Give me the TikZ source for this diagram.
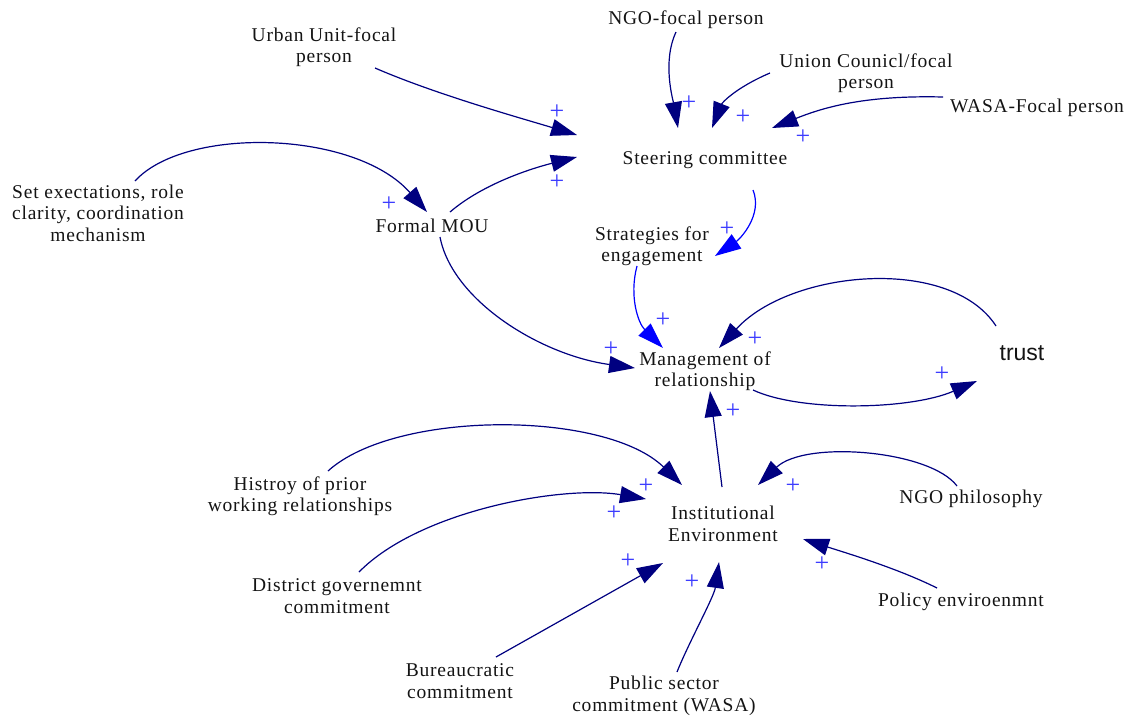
\documentclass[tikz,border=0pt]{standalone}
\usepackage{fontspec}
\setmainfont[LetterSpace=4]{Liberation Serif}
\newfontfamily\trustfont{Liberation Sans}
\usetikzlibrary{arrows.meta,calc}

\definecolor{linkblue}{RGB}{0,0,128}
\definecolor{brightblue}{RGB}{0,0,255}
\definecolor{polarity}{RGB}{60,60,255}
\definecolor{labeltext}{RGB}{20,20,20}

\tikzset{
  var/.style={align=center, inner sep=0pt, text=labeltext,
    font=\fontsize{19.5}{21.5}\selectfont},
  link/.style={draw=linkblue, line width=1.2pt,
    -{Triangle[length=26pt,width=17pt]}},
  strong link/.style={link, draw=brightblue},
  pol/.style={inner sep=0pt, text=polarity, text height=13pt, text depth=0pt,
    font=\fontsize{26}{26}\selectfont}
}

\begin{document}
\begin{tikzpicture}[x=1pt,y=-1pt]
\useasboundingbox (0,0) rectangle (1135,716);

% variables
\node[var] (urban)    at (324,47)  {Urban Unit-focal\\person};
\node[var] (ngofocal) at (686,20)  {NGO-focal person};
\node[var] (union)    at (866,73)  {Union Counicl/focal\\person};
\node[var] (wasa)     at (1037,108) {WASA-Focal person};
\node[var] (steer)    at (705,160) {Steering committee};
\node[var] (setexp)   at (98,213)  {Set exectations, role\\clarity, coordination\\mechanism};
\node[var] (mou)      at (432,226) {Formal MOU};
\node[var] (strat)    at (652,246) {Strategies for\\engagement};
\node[var] (mgmt)     at (705,371) {Management of\\relationship};
\node[var, font=\trustfont\fontsize{23}{23}\selectfont] (trust) at (1022,353) {trust};
\node[var] (hist)     at (300,496) {Histroy of prior\\working relationships};
\node[var] (inst)     at (723,524) {Institutional\\Environment};
\node[var] (ngophil)  at (971,499) {NGO philosophy};
\node[var] (district) at (337,596) {District governemnt\\commitment};
\node[var] (policy)   at (961,602) {Policy enviroenmnt};
\node[var] (bureau)   at (460,681) {Bureaucratic\\commitment};
\node[var] (public)   at (664,696) {Public sector\\commitment (WASA)};

% links into the steering committee
\draw[link] ($(urban)+(51,21)$) .. controls +(60,26) and +(-60,-18) .. ($(steer)+(-128,-25)$);
\draw[link] ($(mou)+(18,-14)$) .. controls +(35,-30) and +(-40,10) .. ($(steer)+(-128,-3)$);
\draw[link] ($(ngofocal)+(-10,12)$) .. controls +(-14,30) and +(-5,-28) .. ($(steer)+(-27,-32)$);
\draw[link] ($(union)+(-96,0)$) .. controls +(-35,15) and +(10,-25) .. ($(steer)+(7,-32)$);
\draw[link] ($(wasa)+(-94,-11)$) .. controls +(-80,-2) and +(50,-20) .. ($(steer)+(67,-32)$);

% steering committee and strategies
\draw[strong link] ($(steer)+(48,30)$) .. controls +(10,25) and +(25,-17) .. ($(strat)+(63,10)$);
\draw[strong link] ($(strat)+(-15,20)$) .. controls +(-8,30) and +(-25,-25) .. ($(mgmt)+(-42,-23)$);

% formal MOU
\draw[link] ($(setexp)+(37,-32)$) .. controls +(50,-55) and +(-72,-82) .. ($(mou)+(-5,-14)$);
\draw[link] ($(mou)+(8,11)$) .. controls +(12,63) and +(-95,-13) .. ($(mgmt)+(-70,-3)$);

% trust loop
\draw[link] ($(trust)+(-26,-27)$) .. controls +(-46,-71) and +(71,-78) .. ($(mgmt)+(14,-23)$);
\draw[link] ($(mgmt)+(48,19)$) .. controls +(47,22) and +(-67,29) .. ($(trust)+(-45,28)$);

% institutional environment
\draw[link] ($(inst)+(-1,-37)$) -- ($(mgmt)+(5,20)$);
\draw[link] ($(hist)+(28,-25)$) .. controls +(67,-61) and +(-77,-75) .. ($(inst)+(-41,-39)$);
\draw[link] ($(district)+(22,-24)$) .. controls +(61,-62) and +(-82,-14) .. ($(inst)+(-77,-25)$);
\draw[link] ($(bureau)+(36,-24)$) -- ($(inst)+(-60,39)$);
\draw[link] ($(public)+(13,-24)$) .. controls +(12,-30) and +(-5,35) .. ($(inst)+(-4,38)$);
\draw[link] ($(ngophil)+(-14,-13)$) .. controls +(-27,-36) and +(47,-45) .. ($(inst)+(35,-39)$);
\draw[link] ($(policy)+(-24,-14)$) .. controls +(-40,-20) and +(40,13) .. ($(inst)+(80,15)$);

% link polarities
\node[pol] (p1)  at (557,113) {+};
\node[pol] (p2)  at (557,183) {+};
\node[pol] (p3)  at (689,104) {+};
\node[pol] (p4)  at (743,118) {+};
\node[pol] (p5)  at (803,138) {+};
\node[pol] (p6)  at (727,230) {+};
\node[pol] (p7)  at (389,205) {+};
\node[pol] (p8)  at (611,350) {+};
\node[pol] (p9)  at (663,321) {+};
\node[pol] (p10) at (755,340) {+};
\node[pol] (p11) at (942,375) {+};
\node[pol] (p12) at (733,412) {+};
\node[pol] (p13) at (646,487) {+};
\node[pol] (p14) at (614,514) {+};
\node[pol] (p15) at (628,562) {+};
\node[pol] (p16) at (692,583) {+};
\node[pol] (p17) at (793,487) {+};
\node[pol] (p18) at (822,565) {+};
\end{tikzpicture}
\end{document}
